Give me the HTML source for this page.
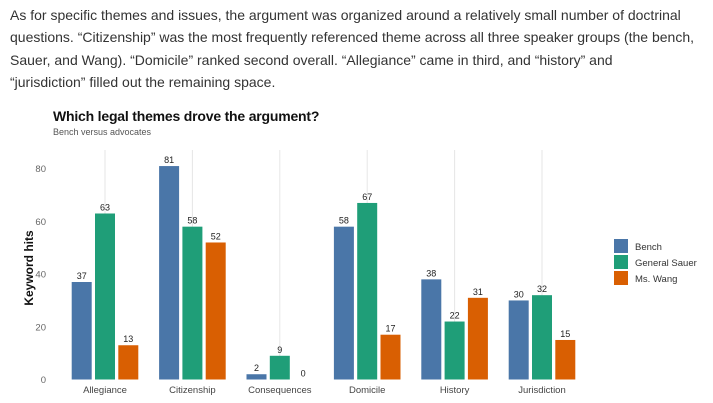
<!DOCTYPE html>
<html><head><meta charset="utf-8"><style>
body{margin:0;width:713px;height:403px;background:#fff;overflow:hidden;font-family:"Liberation Sans",sans-serif}
#para{position:absolute;left:10px;top:4px;width:710px;font-size:14px;line-height:22.3px;color:#333;letter-spacing:0px;white-space:nowrap}
</style></head><body>
<div id="para">As for specific themes and issues, the argument was organized around a relatively small number of doctrinal<br>questions. “Citizenship” was the most frequently referenced theme across all three speaker groups (the bench,<br>Sauer, and Wang). “Domicile” ranked second overall. “Allegiance” came in third, and “history” and<br>“jurisdiction” filled out the remaining space.</div>
<svg id="chart" width="713" height="403" style="position:absolute;left:0;top:0" font-family="Liberation Sans, sans-serif">
<text x="53" y="121" font-size="14" font-weight="bold" fill="#111" letter-spacing="-0.2">Which legal themes drove the argument?</text>
<text x="53" y="135" font-size="9" fill="#555">Bench versus advocates</text>
<text transform="translate(33,268) rotate(-90)" text-anchor="middle" font-size="12" font-weight="bold" fill="#111">Keyword hits</text>
<g id="g"></g>
</svg>
<script>
const categories=["Allegiance","Citizenship","Consequences","Domicile","History","Jurisdiction"];
const bench=[37,81,2,58,38,30];
const sauer=[63,58,9,67,22,32];
const wang=[13,52,0,17,31,15];
const seriesNames=["Bench","General Sauer","Ms. Wang"];
const colors=["#4a76a8","#1f9e78","#d95f02"];
const yTicks=[0,20,40,60,80];
const NS="http://www.w3.org/2000/svg";
const g=document.getElementById('g');
function y(v){return 379.5-v*2.635;}
function xc(i){return 105+i*87.4;}
function mk(t,a){const e=document.createElementNS(NS,t);for(const k in a)e.setAttribute(k,a[k]);g.appendChild(e);return e;}
categories.forEach((c,i)=>{
  const l=mk('line',{x1:xc(i),x2:xc(i),y1:150,y2:379,stroke:'#e6e6e6','stroke-width':1});
  
  
  const t=mk('text',{x:xc(i),y:393,'text-anchor':'middle','font-size':9.5,fill:'#444'});
  t.textContent=c;
  
  
});
yTicks.forEach(v=>{
  const t=mk('text',{x:46,y:y(v)+3.5,'text-anchor':'end','font-size':9.5,fill:'#666'});
  t.textContent=v;
  
  
});
[bench,sauer,wang].forEach((s,k)=>{
  s.forEach((v,i)=>{
    const x=xc(i)+(k-1)*23.3-10;
    const r=mk('rect',{x:x,y:y(v),width:20,height:Math.max(0,379.5-y(v)),fill:colors[k]});
    
    
    const t=mk('text',{x:x+10,y:y(v)-3,'text-anchor':'middle','font-size':9,fill:'#222'});
    t.textContent=v;
    
    
  });
});
seriesNames.forEach((n,k)=>{
  const r=mk('rect',{x:614,y:239+k*16,width:14,height:14,fill:colors[k]});
  
  
  const t=mk('text',{x:635,y:250+k*16,'font-size':9.5,fill:'#333'});
  t.textContent=n;
  
  
});
</script>
</body></html>
